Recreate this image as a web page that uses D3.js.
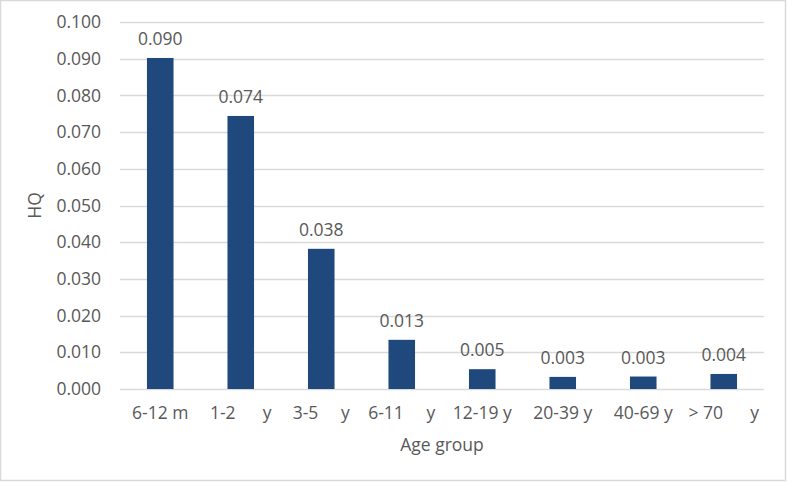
<!DOCTYPE html>
<html>
<head>
<meta charset="utf-8">
<script src="https://cdn.jsdelivr.net/npm/d3@7"></script>
<style>
  html, body { margin: 0; padding: 0; background: #fff; }
  svg text { font-family: "Open Sans", sans-serif; fill: #595959; white-space: pre; }
</style>
</head>
<body>
<svg id="chart" width="787" height="482"></svg>
<script>
const categories = ["6-12 m", "1-2      y", "3-5     y", "6-11     y", "12-19 y", "20-39 y", "40-69 y", "> 70      y"];
const hqValues = [0.0902, 0.0744, 0.0382, 0.0134, 0.0054, 0.0033, 0.0034, 0.0041];
const yTicks = [0, 0.01, 0.02, 0.03, 0.04, 0.05, 0.06, 0.07, 0.08, 0.09, 0.1];
const xTitle = "Age group";
const yTitle = "HQ";

const W = 787, H = 482;
const m = { left: 120, right: 23, top: 22, bottom: 93 };
const svg = d3.select("#chart");

svg.append("rect").attr("x", 0.5).attr("y", 0.5).attr("width", W - 2).attr("height", H - 2)
  .attr("fill", "#fff").attr("stroke", "#d9d9d9").attr("stroke-width", 1.5);

const x = d3.scaleBand().domain(categories).range([m.left, W - m.right]).paddingInner(0.67).paddingOuter(0.335);
const y = d3.scaleLinear().domain([0, 0.1]).range([H - m.bottom, m.top]);

// gridlines
svg.append("g").selectAll("line").data(yTicks).join("line")
  .attr("x1", m.left).attr("x2", W - m.right)
  .attr("y1", d => Math.round(y(d)) + 0.5).attr("y2", d => Math.round(y(d)) + 0.5)
  .attr("stroke", "#d9d9d9").attr("stroke-width", 1.3);

// y axis labels
const yAxis = d3.axisLeft(y).tickValues(yTicks).tickFormat(d3.format(".3f")).tickSize(0).tickPadding(19);
const gy = svg.append("g").attr("transform", `translate(${m.left},0)`).call(yAxis);
gy.select(".domain").remove();
gy.selectAll("text").attr("font-size", "17.5px").attr("fill", "#595959").style("font-family", "'Open Sans', sans-serif");

// bars
svg.append("g").selectAll("rect").data(hqValues).join("rect")
  .attr("x", (d, i) => x(categories[i]))
  .attr("width", x.bandwidth())
  .attr("y", d => y(d))
  .attr("height", d => y(0) - y(d))
  .attr("fill", "#1f497d");

// bar value labels
svg.append("g").selectAll("text").data(hqValues).join("text")
  .attr("x", (d, i) => x(categories[i]) + x.bandwidth() / 2)
  .attr("y", d => y(d) - 13)
  .attr("text-anchor", "middle")
  .attr("font-size", "17.5px")
  .text(d => d3.format(".3f")(d));

// x axis labels
const xAxis = d3.axisBottom(x).tickSize(0).tickPadding(18);
const gx = svg.append("g").attr("transform", `translate(0,${H - m.bottom})`).call(xAxis);
gx.select(".domain").remove();
gx.selectAll("text").attr("font-size", "17.5px").attr("fill", "#595959")
  .style("font-family", "'Open Sans', sans-serif").style("white-space", "pre");

// axis titles
svg.append("text").attr("x", (m.left + W - m.right) / 2).attr("y", 451)
  .attr("text-anchor", "middle").attr("font-size", "17.5px").text(xTitle);
svg.append("text").attr("transform", `translate(41,${(m.top + H - m.bottom) / 2}) rotate(-90)`)
  .attr("text-anchor", "middle").attr("font-size", "17.5px").text(yTitle);
</script>
</body>
</html>
